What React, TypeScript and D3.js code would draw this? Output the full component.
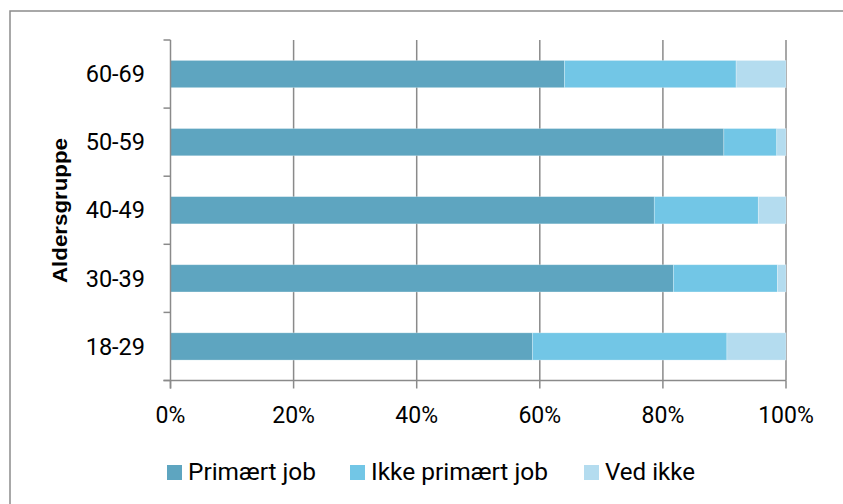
import React from "react";
import * as d3 from "d3";

const categories = ["18-29", "30-39", "40-49", "50-59", "60-69"];
const seriesNames = ["Primært job", "Ikke primært job", "Ved ikke"];
const primaert = [58.8, 81.7, 78.6, 89.9, 64.0];
const ikkePrimaert = [31.6, 16.9, 16.9, 8.6, 27.9];
const vedIkke = [9.6, 1.4, 4.5, 1.5, 8.1];
const xTicks = [0, 20, 40, 60, 80, 100];
const colors = ["#5ea5c0", "#72c6e6", "#b4dcef"];
const axisTitle = "Aldersgruppe";

const W = 843;
const H = 504;
const L = 170.5;
const R = 786;
const T = 40;
const B = 380.5;

export default function App() {
  const x = d3.scaleLinear().domain([0, 100]).range([L, R]);
  const y = d3
    .scaleBand<string>()
    .domain(categories)
    .range([B, T])
    .paddingInner(0.6)
    .paddingOuter(0.3);

  const rows = categories.map((c, i) => ({
    cat: c,
    p: primaert[i],
    ik: ikkePrimaert[i],
    v: vedIkke[i],
  }));
  const stack = d3.stack<any>().keys(["p", "ik", "v"])(rows);

  const step = y.step();
  const boundaries = d3.range(categories.length + 1).map((k) => B - k * step);

  const font = "Roboto, 'Open Sans', sans-serif";
  const legendX = [167, 350, 584];
  const legendW = [128, 177, 90];

  return (
    <svg
      width={W}
      height={H}
      style={{ position: "absolute", left: 0, top: 0, background: "#fff" }}
    >
      <rect x={0} y={0} width={W} height={H} fill="#fff" />
      <rect
        x={10}
        y={11}
        width={W + 10}
        height={H + 10}
        fill="none"
        stroke="#8c8c8c"
        strokeWidth={1.5}
      />
      {xTicks.slice(1).map((t) => (
        <line
          key={"g" + t}
          x1={x(t)}
          x2={x(t)}
          y1={T}
          y2={B}
          stroke="#8a8a8a"
          strokeWidth={1.5}
        />
      ))}
      {stack.map((s, si) =>
        s.map((d, di) => (
          <rect
            key={si + "-" + di}
            x={x(d[0])}
            y={y(rows[di].cat)!}
            width={Math.max(0, x(Math.min(100, d[1])) - x(d[0]))}
            height={y.bandwidth()}
            fill={colors[si]}
            stroke="#ffffff"
            strokeOpacity={0.35}
            strokeWidth={0.75}
          />
        ))
      )}
      <line x1={L} x2={L} y1={T} y2={B + 8} stroke="#8a8a8a" strokeWidth={1.5} />
      {boundaries.map((b, i) => (
        <line
          key={"yt" + i}
          x1={L - 7}
          x2={L}
          y1={b}
          y2={b}
          stroke="#8a8a8a"
          strokeWidth={1.5}
        />
      ))}
      <line x1={L - 7} x2={R} y1={B} y2={B} stroke="#8a8a8a" strokeWidth={1.5} />
      {xTicks.map((t) => (
        <line
          key={"xt" + t}
          x1={x(t)}
          x2={x(t)}
          y1={B}
          y2={B + 8}
          stroke="#8a8a8a"
          strokeWidth={1.5}
        />
      ))}
      {xTicks.map((t) => (
        <text
          key={"xl" + t}
          x={x(t)}
          y={423}
          textAnchor="middle"
          fontFamily={font}
          fontSize={23}
          fill="#000"
        >
          {t + "%"}
        </text>
      ))}
      {categories.map((c) => (
        <text
          key={"yl" + c}
          x={145}
          y={y(c)! + y.bandwidth() / 2}
          dy="0.35em"
          textAnchor="end"
          fontFamily={font}
          fontSize={23.5}
          fill="#000"
        >
          {c}
        </text>
      ))}
      <text
        transform={`translate(67, 210.5) rotate(-90) scale(1, 0.9)`}
        textAnchor="middle"
        fontFamily="'Liberation Sans', Arial, sans-serif"
        fontWeight="bold"
        fontSize={22}
        textLength={145}
        lengthAdjust="spacingAndGlyphs"
        fill="#000"
      >
        {axisTitle}
      </text>
      {seriesNames.map((n, i) => (
        <g key={"lg" + i}>
          <rect x={legendX[i]} y={465} width={15} height={15} fill={colors[i]} />
          <text
            x={legendX[i] + 21}
            y={480}
            fontFamily={font}
            fontSize={24}
            textLength={legendW[i]}
            lengthAdjust="spacingAndGlyphs"
            fill="#000"
          >
            {n}
          </text>
        </g>
      ))}
    </svg>
  );
}
